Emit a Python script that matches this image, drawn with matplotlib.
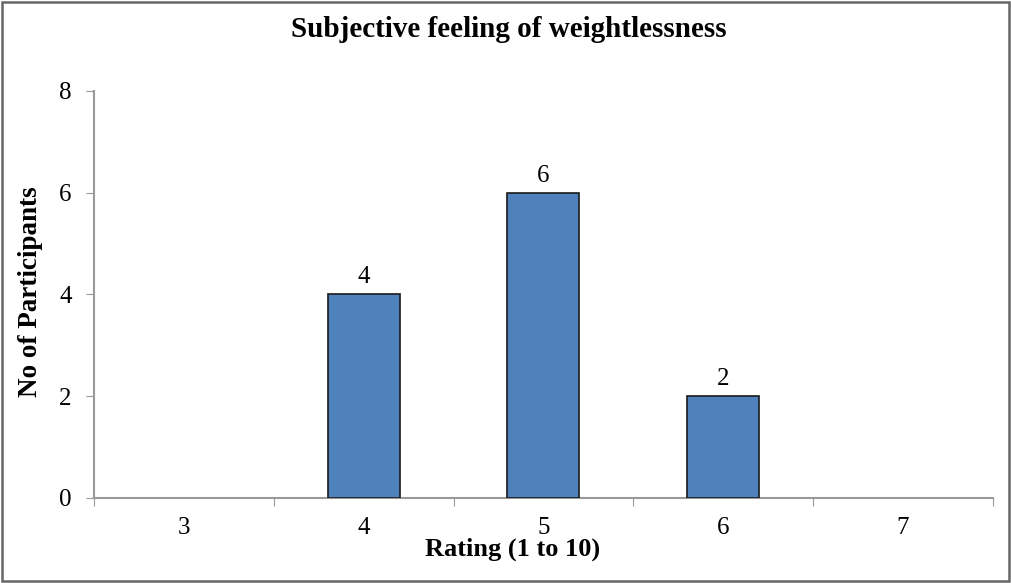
import matplotlib
matplotlib.use("Agg")
import matplotlib.pyplot as plt
from matplotlib.patches import Rectangle

ratings = ["3", "4", "5", "6", "7"]
participants = [0, 4, 6, 2, 0]
y_ticks = [0, 2, 4, 6, 8]

plt.rcParams['font.family'] = ['Liberation Serif', 'DejaVu Serif']

fig = plt.figure(figsize=(10.11, 5.83), dpi=100)
ax = fig.add_axes([0.093, 0.146, 0.889, 0.698])

x = list(range(len(ratings)))
bars = ax.bar(x, participants, width=0.4, color='#4F81BD', edgecolor='#1a1a1a', linewidth=1.2, zorder=3)
for rect, v in zip(bars, participants):
    if v > 0:
        ax.text(rect.get_x() + rect.get_width() / 2, v + 0.12, str(v), ha='center', va='bottom', fontsize=18)
    else:
        rect.set_visible(False)

ax.set_xlim(-0.5, len(ratings) - 0.5)
ax.set_ylim(0, 8)
ax.set_yticks(y_ticks)
ax.set_xticks([i - 0.5 for i in range(len(ratings) + 1)])
ax.set_xticklabels([])
ax.set_xticks(x, minor=True)
ax.set_xticklabels(ratings, minor=True, fontsize=18)
ax.tick_params(axis='x', which='minor', length=0, pad=14)
ax.tick_params(axis='x', which='major', length=6, color='#999999', direction='out')
ax.tick_params(axis='y', length=6, color='#999999', labelsize=18, pad=10)

for s in ['top', 'right']:
    ax.spines[s].set_visible(False)
for s in ['left', 'bottom']:
    ax.spines[s].set_color('#999999')
    ax.spines[s].set_linewidth(1.5)

fig.text(0.503, 0.950, 'Subjective feeling of weightlessness', ha='center', va='center', fontsize=21, fontweight='bold')
fig.text(0.507, 0.057, 'Rating (1 to 10)', ha='center', va='center', fontsize=19, fontweight='bold')
fig.text(0.03, 0.50, 'No of Participants', ha='center', va='center', rotation=90, fontsize=19.5, fontweight='bold')

fig.patches.append(Rectangle((0.002, 0.003), 0.996, 0.994, transform=fig.transFigure, fill=False,
                             edgecolor='#666666', linewidth=1.8))

fig.savefig('out.png', dpi=100)
